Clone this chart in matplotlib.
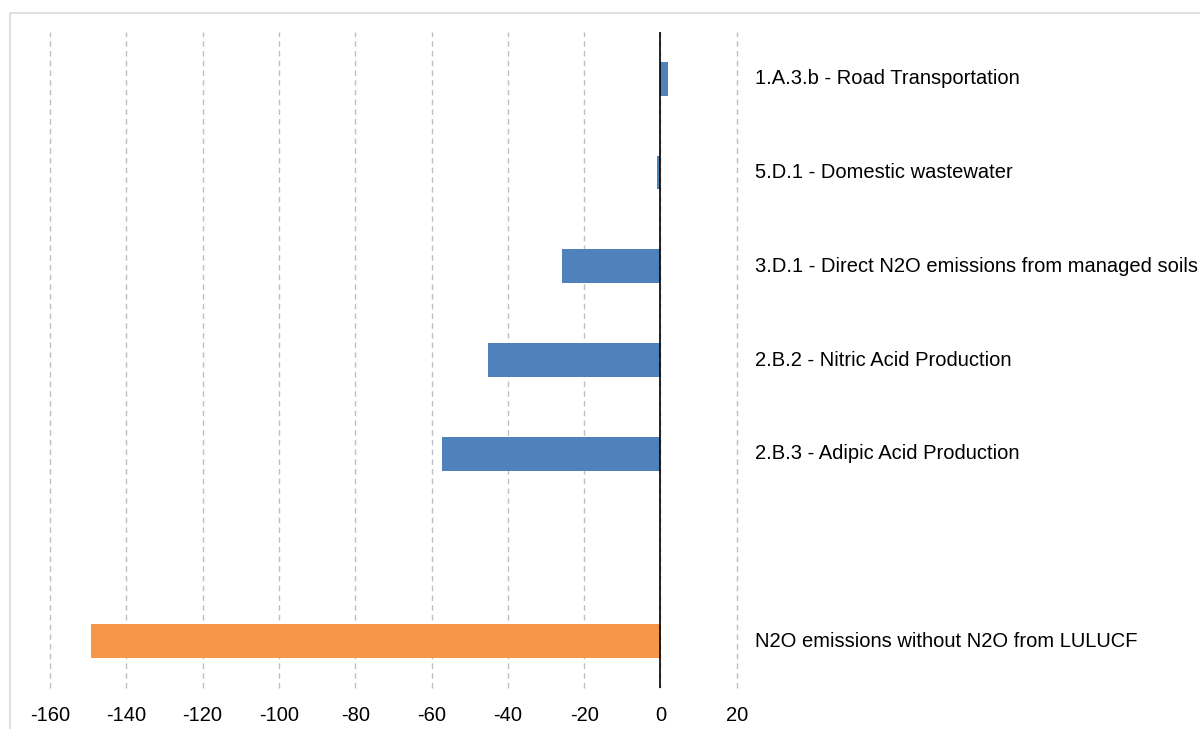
import matplotlib
matplotlib.use("Agg")
import matplotlib.pyplot as plt
from matplotlib.patches import Rectangle

plt.rcParams['font.family'] = ['Liberation Sans', 'DejaVu Sans']
plt.rcParams['axes.unicode_minus'] = False

# categories top to bottom, one empty slot before the total
categories = [
    "1.A.3.b - Road Transportation",
    "5.D.1 - Domestic wastewater",
    "3.D.1 - Direct N2O emissions from managed soils",
    "2.B.2 - Nitric Acid Production",
    "2.B.3 - Adipic Acid Production",
    "",
    "N2O emissions without N2O from LULUCF",
]
values = [2.0, -0.8, -25.7, -45.1, -57.2, None, -149.3]
colors = ["#4F81BD"] * 6 + ["#F79646"]
xticks = list(range(-160, 21, 20))

fig = plt.figure(figsize=(12, 7.29), dpi=100)

# light chart border
fig.patches.append(Rectangle((10 / 1200, -0.1), 1.2, (729 - 13) / 729 + 0.1,
                             transform=fig.transFigure, fill=False,
                             edgecolor="#D9D9D9", linewidth=1.2))

ax = fig.add_axes([50 / 1200, 1 - 688 / 729, (736.7 - 50) / 1200, (688 - 32) / 729])

n = len(categories)
ypos = list(range(n))
for y, v, c in zip(ypos, values, colors):
    if v is None:
        continue
    ax.barh(y, v, height=0.36, color=c, zorder=3)

ax.set_ylim(n - 0.5, -0.5)
ax.set_xlim(-160, 20)
ax.set_xticks(xticks)
ax.set_yticks([])
ax.tick_params(axis="x", length=0, pad=13, labelsize=14.5)
ax.xaxis.grid(True, linestyle=(0, (4, 3)), color="#BFBFBF", linewidth=1.0, zorder=0)
for gl in ax.get_xgridlines():
    gl.set_clip_on(False)
ax.axvline(0, color="black", linewidth=1.2, zorder=4)
for s in ax.spines.values():
    s.set_visible(False)

for y, name in zip(ypos, categories):
    if name:
        ax.text(24.8, y, name, va="center", ha="left", fontsize=14.5, clip_on=False)

fig.savefig("out.png", dpi=100)
